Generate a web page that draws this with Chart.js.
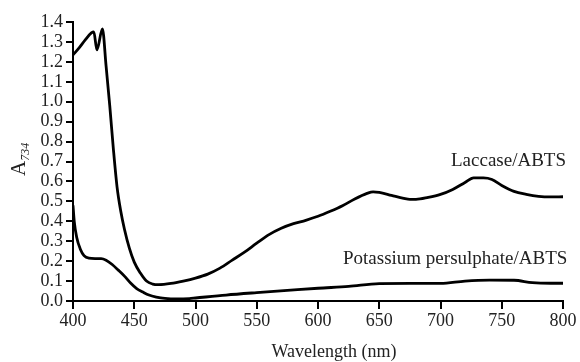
<!DOCTYPE html>
<html>
<head>
<meta charset="utf-8">
<script src="https://cdn.jsdelivr.net/npm/chart.js@4/dist/chart.umd.min.js"></script>
<style>
  html, body { margin: 0; padding: 0; background: #fff; }
  #wrap { width: 580px; height: 362px; }
</style>
</head>
<body>
<div id="wrap"><canvas id="c" width="580" height="362"></canvas></div>
<script>
// ---- data ----
const lacWavelength = [400,405,410,415,417,419.5,424,427,430,433,436,439,442,446,450,455,460,465,470,480,490,500,510,520,530,540,550,560,570,580,590,600,610,620,630,640,645,650,660,670,675,680,690,700,710,720,727,735,742,750,760,770,780,790,800];
const lacAbs =        [1.235,1.27,1.31,1.345,1.35,1.26,1.365,1.18,0.98,0.76,0.57,0.45,0.36,0.265,0.195,0.14,0.10,0.085,0.082,0.088,0.10,0.115,0.135,0.165,0.205,0.245,0.29,0.333,0.365,0.388,0.405,0.425,0.45,0.478,0.512,0.54,0.548,0.545,0.53,0.515,0.51,0.51,0.52,0.535,0.56,0.595,0.618,0.618,0.61,0.58,0.55,0.535,0.525,0.522,0.523];

const potWavelength = [400,401,403,406,409,413,418,423,427,432,437,442,447,452,457,462,468,475,485,495,500,525,550,575,600,625,650,675,700,720,740,760,775,790,800];
const potAbs =        [0.48,0.40,0.32,0.26,0.228,0.215,0.213,0.213,0.205,0.183,0.155,0.125,0.09,0.062,0.045,0.03,0.02,0.013,0.01,0.012,0.015,0.03,0.042,0.053,0.064,0.073,0.087,0.088,0.088,0.1,0.105,0.104,0.092,0.089,0.089];

const xTicks = [400,450,500,550,600,650,700,750,800];
const yTicks = [0,0.1,0.2,0.3,0.4,0.5,0.6,0.7,0.8,0.9,1.0,1.1,1.2,1.3,1.4];

const seriesNames = ['Laccase/ABTS', 'Potassium persulphate/ABTS'];
const xTitle = 'Wavelength (nm)';
const yTitleMain = 'A';
const yTitleSub = '734';

// ---- chart ----
const FONT = '"Liberation Serif", "Times New Roman", serif';
const TXT = '#222';

function pts(xs, ys) { return xs.map((x, i) => ({ x: x, y: ys[i] })); }

const annot = {
  id: 'annot',
  afterDraw(chart) {
    const ctx = chart.ctx;
    ctx.save();
    ctx.fillStyle = TXT;
    ctx.textBaseline = 'alphabetic';
    ctx.textAlign = 'left';
    ctx.font = '19px ' + FONT;
    ctx.fillText(seriesNames[0], 451, 166);
    ctx.fillText(seriesNames[1], 343, 264);
    // x title
    ctx.textAlign = 'center';
    ctx.font = '18px ' + FONT;
    ctx.fillText(xTitle, 334, 357);
    // y title (rotated with subscript)
    ctx.translate(25, 176);
    ctx.rotate(-Math.PI / 2);
    ctx.textAlign = 'left';
    ctx.font = '21px ' + FONT;
    ctx.fillText(yTitleMain, 0, 0);
    const w = ctx.measureText(yTitleMain).width;
    ctx.font = 'italic 12px ' + FONT;
    ctx.fillText(yTitleSub, w, 4);
    ctx.restore();
  }
};

new Chart(document.getElementById('c'), {
  type: 'line',
  data: {
    datasets: [
      { label: seriesNames[0], data: pts(lacWavelength, lacAbs), borderColor: '#000', borderWidth: 2.8, pointRadius: 0, fill: false, cubicInterpolationMode: 'monotone' },
      { label: seriesNames[1], data: pts(potWavelength, potAbs), borderColor: '#000', borderWidth: 2.8, pointRadius: 0, fill: false, cubicInterpolationMode: 'monotone' }
    ]
  },
  options: {
    responsive: false,
    animation: false,
    devicePixelRatio: 1,
    layout: { padding: { left: 0, right: 17, top: 22, bottom: 0 } },
    plugins: { legend: { display: false }, tooltip: { enabled: false } },
    scales: {
      x: {
        type: 'linear', min: 400, max: 800,
        afterBuildTicks: s => { s.ticks = xTicks.map(v => ({ value: v })); },
        afterFit: s => { s.height = 61; },
        ticks: { color: TXT, font: { family: FONT, size: 18 }, padding: 1, maxRotation: 0, autoSkip: false, callback: v => String(v) },
        grid: { drawOnChartArea: false, drawTicks: true, tickLength: 8, color: '#000', lineWidth: 2 },
        border: { color: '#000', width: 2 }
      },
      y: {
        type: 'linear', min: 0, max: 1.4,
        afterBuildTicks: s => { s.ticks = yTicks.map(v => ({ value: v })); },
        afterFit: s => { s.width = 73; },
        ticks: { color: TXT, font: { family: FONT, size: 18 }, padding: 3, autoSkip: false, callback: v => v.toFixed(1) },
        grid: { drawOnChartArea: false, drawTicks: true, tickLength: 7, color: '#000', lineWidth: 2 },
        border: { color: '#000', width: 2 }
      }
    }
  },
  plugins: [annot]
});
</script>
</body>
</html>
